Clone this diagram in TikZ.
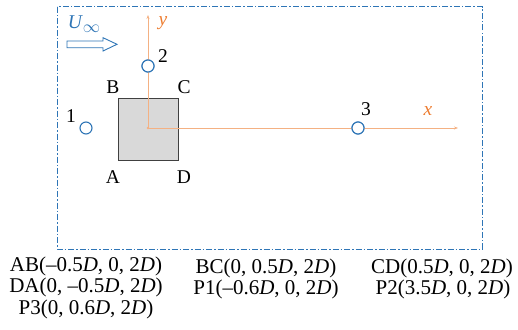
\documentclass[tikz,border=0pt]{standalone}
\usepackage{fontspec}
\setmainfont{Liberation Serif}
\usetikzlibrary{arrows.meta}
\definecolor{cblue}{RGB}{46,117,182}
\definecolor{corange}{RGB}{244,177,131}
\definecolor{clab}{RGB}{237,125,49}
\begin{document}
\begin{tikzpicture}[x=1pt,y=-1pt,
  probe/.style={circle,draw=cblue,line width=1.1pt,fill=white,minimum size=12pt,inner sep=0pt},
  lab/.style={font=\fontsize{19.5}{19.5}\selectfont,inner sep=0pt},
  captxt/.style={font=\fontsize{21}{21}\selectfont,inner sep=0pt,anchor=center},
  axis/.style={draw=corange,line width=0.9pt,-{Stealth[length=4pt,width=3pt]}}]
\useasboundingbox (0,0) rectangle (518,329);
% frame
\draw[cblue,line width=1pt,dash pattern=on 6pt off 2pt on 1.5pt off 2pt] (57,7) rectangle (482,249);
% square
\node[draw=black!75,fill=black!15,line width=1pt,minimum width=60pt,minimum height=62pt,inner sep=0pt] (sq) at (148,129) {};
\coordinate (o) at (148,128);
\coordinate (ye) at (148,15);
\coordinate (xe) at (458,128);
% probes
\node[probe] (p2) at (148,66) {};
\node[probe] (p1) at (86,128) {};
\node[probe] (p3) at (358,128) {};
% axes
\draw[axis] (o) -- (ye);
\draw[axis] (o) -- (xe);
\fill[corange] (o) circle (1.3pt);
\node[probe] at (p2) {};
\node[probe] at (p3) {};
\node[lab,text=clab] (ylab) at (163,23) {\textit{y}};
\node[lab,text=clab] (xlab) at (428,111) {\textit{x}};
% labels
\node[lab] (l2) at (163,56) {2};
\node[lab] (l1) at (71,116) {1};
\node[lab] (l3) at (366,109) {3};
\node[lab] (lB) at (113,87) {B};
\node[lab] (lC) at (184,87) {C};
\node[lab] (lA) at (113,177) {A};
\node[lab] (lD) at (184,177) {D};
% U infinity
\node[lab,text=cblue] (uinf) at (84,24) {\textit{U}\raisebox{-4pt}{\fontsize{19}{19}\selectfont$\infty$}};
\draw[cblue,line width=0.9pt,fill=white] (67,41) -- (103,41) -- (103,37.7) -- (117,44.3) -- (103,51) -- (103,47.7) -- (67,47.7) -- cycle;
% captions
\node[captxt] (ab) at (86,266) {AB(–0.5\textit{D}, 0, 2\textit{D})};
\node[captxt] (da) at (86,287) {DA(0, –0.5\textit{D}, 2\textit{D})};
\node[captxt] (pp3) at (86,309) {P3(0, 0.6\textit{D}, 2\textit{D})};
\node[captxt] (bc) at (266,268) {BC(0, 0.5\textit{D}, 2\textit{D})};
\node[captxt] (pp1) at (266,289) {P1(–0.6\textit{D}, 0, 2\textit{D})};
\node[captxt] (cd) at (442,268) {CD(0.5\textit{D}, 0, 2\textit{D})};
\node[captxt] (pp2) at (443,289) {P2(3.5\textit{D}, 0, 2\textit{D})};
\end{tikzpicture}
\end{document}
